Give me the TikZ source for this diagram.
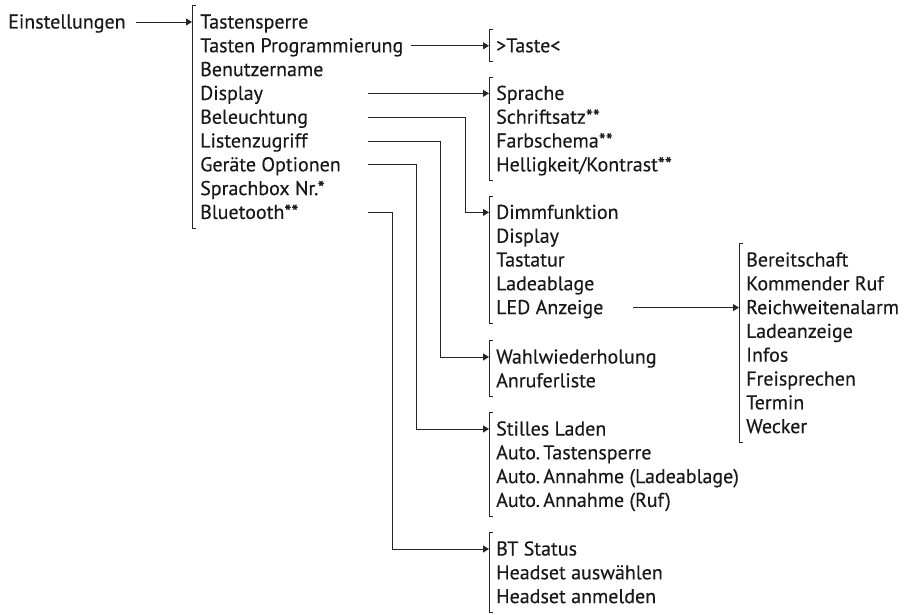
\documentclass[tikz,border=0pt]{standalone}
\usepackage{fontspec}
\setmainfont[FakeBold=0.3]{PT Sans}
\usetikzlibrary{arrows.meta}
\tikzset{
  item/.style={anchor=west, inner sep=0pt, text height=13pt, text depth=0pt, font=\fontsize{20}{22}\selectfont, text=black!90},
  flow/.style={-{Triangle[length=6pt,width=7pt]}, line width=0.9pt, draw=black!85},
  brk/.style={line width=0.9pt, draw=black!85},
}

\begin{document}
\begin{tikzpicture}[x=1pt,y=-1pt]
    \useasboundingbox (0,0) rectangle (914,615);
    \coordinate (col) at (368,0);
    \coordinate (col2) at (633,0);
    % main menu
    \node[item] (einst) at (8,22) {Einstellungen};
    \node[item] (m1) at (200,22.0) {Tastensperre};
    \node[item] (m2) at (200,45.8) {Tasten Programmierung};
    \node[item] (m3) at (200,69.6) {Benutzername};
    \node[item] (m4) at (200,93.4) {Display};
    \node[item] (m5) at (200,117.2) {Beleuchtung};
    \node[item] (m6) at (200,141.0) {Listenzugriff};
    \node[item] (m7) at (200,164.8) {Geräte Optionen};
    \node[item] (m8) at (200,188.6) {Sprachbox Nr.*};
    \node[item] (m9) at (200,212.4) {Bluetooth**};
    % sub menus
    \node[item] (taste) at (496,45.8) {>Taste<};
    \node[item] (s1) at (496,93.4) {Sprache};
    \node[item] (s2) at (496,117.2) {Schriftsatz**};
    \node[item] (s3) at (496,141.0) {Farbschema**};
    \node[item] (s4) at (496,164.8) {Helligkeit/Kontrast**};
    \node[item] (b1) at (496,212.4) {Dimmfunktion};
    \node[item] (b2) at (496,236.2) {Display};
    \node[item] (b3) at (496,260.0) {Tastatur};
    \node[item] (b4) at (496,283.8) {Ladeablage};
    \node[item] (b5) at (496,307.6) {LED Anzeige};
    \node[item] (l1) at (496,357.0) {Wahlwiederholung};
    \node[item] (l2) at (496,380.8) {Anruferliste};
    \node[item] (g1) at (496,429.0) {Stilles Laden};
    \node[item] (g2) at (496,452.8) {Auto.\,Tastensperre};
    \node[item] (g3) at (496,476.6) {Auto.\,Annahme (Ladeablage)};
    \node[item] (g4) at (496,500.4) {Auto.\,Annahme (Ruf)};
    \node[item] (t1) at (496,549.0) {BT Status};
    \node[item] (t2) at (496,572.8) {Headset auswählen};
    \node[item] (t3) at (496,596.6) {Headset anmelden};
    % LED sub menu
    \node[item] (a1) at (746,260.0) {Bereitschaft};
    \node[item] (a2) at (746,283.8) {Kommender Ruf};
    \node[item] (a3) at (746,307.6) {Reichweitenalarm};
    \node[item] (a4) at (746,331.4) {Ladeanzeige};
    \node[item] (a5) at (746,355.2) {Infos};
    \node[item] (a6) at (746,379.0) {Freisprechen};
    \node[item] (a7) at (746,402.8) {Termin};
    \node[item] (a8) at (746,426.6) {Wecker};
    % brackets
    \draw[brk] ([xshift=-4pt,yshift=9.5pt]m1.north west) -- ++(-4,0) |- ([xshift=-4pt,yshift=-9pt]m9.south west);
    \draw[brk] ([xshift=-3pt,yshift=9.5pt]taste.north west) -- ++(-4,0) |- ([xshift=-3pt,yshift=-9pt]taste.south west);
    \draw[brk] ([xshift=-3pt,yshift=9.5pt]s1.north west) -- ++(-4,0) |- ([xshift=-3pt,yshift=-9pt]s4.south west);
    \draw[brk] ([xshift=-3pt,yshift=9.5pt]b1.north west) -- ++(-4,0) |- ([xshift=-3pt,yshift=-9pt]b5.south west);
    \draw[brk] ([xshift=-3pt,yshift=9.5pt]l1.north west) -- ++(-4,0) |- ([xshift=-3pt,yshift=-9pt]l2.south west);
    \draw[brk] ([xshift=-3pt,yshift=9.5pt]g1.north west) -- ++(-4,0) |- ([xshift=-3pt,yshift=-9pt]g4.south west);
    \draw[brk] ([xshift=-3pt,yshift=9.5pt]t1.north west) -- ++(-4,0) |- ([xshift=-3pt,yshift=-9pt]t3.south west);
    \draw[brk] ([xshift=-3pt,yshift=9.5pt]a1.north west) -- ++(-4,0) |- ([xshift=-3pt,yshift=-9pt]a8.south west);
    % arrows
    \draw[flow] ([xshift=10pt]einst.east) -- ([xshift=-8pt]m1.west);
    \draw[flow] ([xshift=8pt]m2.east) -- ([xshift=-7pt]taste.west);
    \draw[flow] (m4.west -| col) -- ([xshift=-7pt]s1.west);
    \draw[flow] (m5.west -| col) -| ([xshift=-31pt]b1.west) -- ([xshift=-7pt]b1.west);
    \draw[flow] (m6.west -| col) -| ([xshift=-56pt]l1.west) -- ([xshift=-7pt]l1.west);
    \draw[flow] (m7.west -| col) -| ([xshift=-80pt]g1.west) -- ([xshift=-7pt]g1.west);
    \draw[flow] (m9.west -| col) -| ([xshift=-104pt]t1.west) -- ([xshift=-7pt]t1.west);
    \draw[flow] (b5.west -| col2) -- ([xshift=-7pt]a3.west);
  \end{tikzpicture}
\end{document}
